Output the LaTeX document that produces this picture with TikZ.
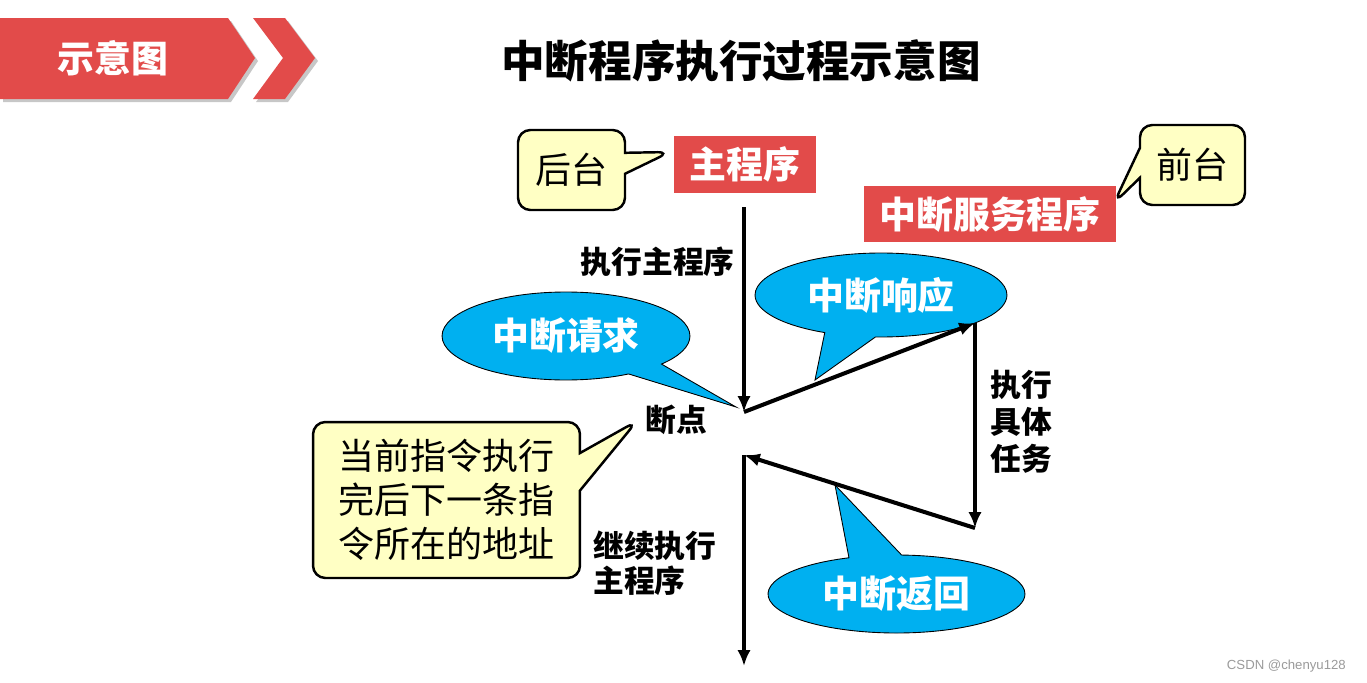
\documentclass[tikz,border=0pt]{standalone}
\usepackage{fontspec}
\setmainfont{Noto Sans CJK SC}
\newfontfamily\latinsans{Liberation Sans}
\usetikzlibrary{arrows.meta, shapes.callouts, shapes.geometric}
\definecolor{SlideRed}{HTML}{E24B4A}
\definecolor{BubbleBlue}{HTML}{00B0F0}
\definecolor{NoteYellow}{HTML}{FFFFC4}
\definecolor{MarkGray}{HTML}{9A9A9A}

\tikzset{
  redbox/.style={fill=SlideRed, text=white, font=\fontsize{21}{24}\selectfont\bfseries, inner sep=0pt, minimum height=1.14cm},
  notebox/.style={rectangle callout, draw=black, line width=1.4pt, fill=NoteYellow, rounded corners=7pt, font=\fontsize{20.5}{25}\selectfont, inner sep=0pt, align=center},
  bubble/.style={ellipse callout, draw=black, line width=0.5pt, fill=BubbleBlue, text=white, font=\fontsize{21}{24}\selectfont\bfseries, inner sep=0pt, callout pointer arc=24},
  steptext/.style={font=\fontsize{17.5}{21}\selectfont\bfseries, inner sep=0pt, align=left},
  flow/.style={line width=2.3pt, -{Latex[length=9pt, width=7.5pt]}},
}

\begin{document}
\begin{tikzpicture}[x=0.02cm, y=-0.02cm]
  \useasboundingbox (0,0) rectangle (1367,683);

  % Banner
  \fill[black!22] (3,21) -- (231,21) -- (258,61) -- (231,102) -- (3,102) -- cycle;
  \fill[black!22] (256,21) -- (288,21) -- (318,61) -- (288,102) -- (256,102) -- (286,61) -- cycle;
  \fill[SlideRed] (0,18) -- (228,18) -- (255,58) -- (228,99) -- (0,99) -- cycle;
  \fill[SlideRed] (253,18) -- (285,18) -- (315,58) -- (285,99) -- (253,99) -- (283,58) -- cycle;
  \node[text=white, font=\fontsize{21}{24}\selectfont\bfseries] (tag) at (113,58) {示意图};

  % Title
  \node[font=\fontsize{24.8}{28}\selectfont\bfseries] (title) at (741,61) {中断程序执行过程示意图};

  % Program boxes
  \node[redbox, minimum width=2.84cm] (mainprog) at (745,164.5) {主程序};
  \node[redbox, minimum width=5.04cm] (isr) at (990,214) {中断服务程序};

  % Notes
  \node[notebox, minimum width=2.14cm, minimum height=1.6cm, callout pointer width=0.42cm,
        callout absolute pointer={(670,152)}] (backnote) at (571.5,170) {后台};
  \node[notebox, minimum width=2.1cm, minimum height=1.6cm, callout pointer width=0.6cm,
        callout absolute pointer={(1114,203)}] (frontnote) at (1192.5,165) {前台};
  \node[notebox, minimum width=5.34cm, minimum height=3.12cm, callout pointer width=0.75cm,
        callout absolute pointer={(637,421)}] (addrnote) at (446.5,500) {当前指令执行\\完后下一条指\\令所在的地址};

  % Bubbles
  \node[bubble, minimum width=4.96cm, minimum height=1.76cm, callout pointer arc=20,
        callout absolute pointer={(736,407)}] (request) at (566,336) {中断请求};
  \node[bubble, minimum width=5.04cm, minimum height=1.68cm,
        callout absolute pointer={(815,380)}] (respond) at (881,295) {中断响应};
  \node[bubble, minimum width=5.14cm, minimum height=1.56cm,
        callout absolute pointer={(835,485)}] (return) at (896.5,594) {中断返回};

  % Flow points
  \coordinate (mainstart) at (744,207);
  \coordinate (breakpt) at (744,412);
  \coordinate (isrtop) at (975,323);
  \coordinate (isrend) at (975,528);
  \coordinate (resume) at (744,455);
  \coordinate (mainend) at (744,666);

  \draw[flow] (mainstart) -- (breakpt);
  \draw[flow] (breakpt) -- (isrtop);
  \draw[flow] (isrtop) -- (isrend);
  \draw[flow] (isrend) -- (resume);
  \draw[flow] (resume) -- (mainend);

  % Labels
  \node[steptext, anchor=east] (runmain) at (735,262) {执行主程序};
  \node[steptext] (bp) at (676,420) {断点};
  \node[steptext, anchor=west] (dotask) at (990,422) {执行\\具体\\任务};
  \node[steptext, anchor=west, font=\fontsize{17.5}{20}\selectfont\bfseries] (goon) at (593,563) {继续执行\\主程序};

  \node[font=\latinsans\fontsize{7.5}{9}\selectfont, text=MarkGray, anchor=east] (mark) at (1352,666) {CSDN @chenyu128};
\end{tikzpicture}
\end{document}
